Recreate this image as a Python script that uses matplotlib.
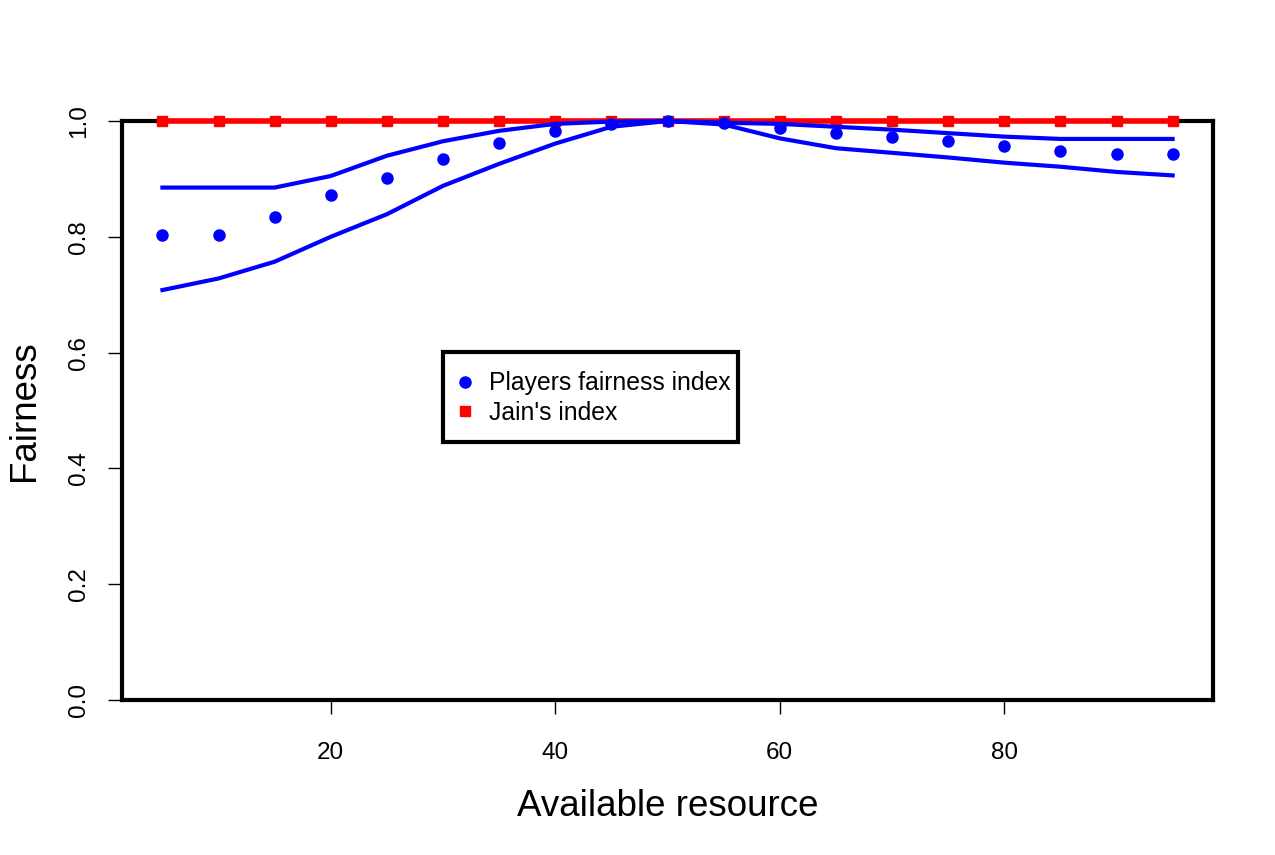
# Libraries
import numpy as np
from matplotlib import pyplot as plt
from matplotlib.patches import Rectangle

plt.rcParams['font.family'] = ['Liberation Sans', 'DejaVu Sans']

# Data
resource = [5, 10, 15, 20, 25, 30, 35, 40, 45, 50, 55, 60, 65, 70, 75, 80, 85, 90, 95]
players_index = [0.803, 0.803, 0.835, 0.873, 0.902, 0.934, 0.962, 0.982, 0.994, 1.0,
                 0.996, 0.988, 0.980, 0.973, 0.965, 0.957, 0.949, 0.943, 0.943]
upper_bound = [0.885, 0.885, 0.885, 0.905, 0.940, 0.965, 0.983, 0.995, 0.999, 1.0,
               0.997, 0.995, 0.990, 0.985, 0.979, 0.973, 0.969, 0.969, 0.969]
lower_bound = [0.708, 0.728, 0.757, 0.800, 0.839, 0.888, 0.926, 0.961, 0.990, 1.0,
               0.994, 0.970, 0.953, 0.945, 0.937, 0.928, 0.921, 0.912, 0.906]
jain_index = [1.0] * len(resource)

fig = plt.figure(figsize=(12.75, 8.55), dpi=100)
ax = fig.add_axes([0.0957, 0.1813, 0.8557, 0.6772])

# Jain's index first, blue series drawn over it
ax.plot(resource, jain_index, color="red", linewidth=4, marker="s", markersize=7,
        clip_on=False, zorder=3)
ax.plot(resource, upper_bound, color="blue", linewidth=3, clip_on=False, zorder=4)
ax.plot(resource, lower_bound, color="blue", linewidth=3, clip_on=False, zorder=4)
ax.plot(resource, players_index, linestyle="none", color="blue", marker="o",
        markersize=8, clip_on=False, zorder=5)

ax.set_xlim(1.4, 98.6)
ax.set_ylim(0, 1)
ax.set_xticks([20, 40, 60, 80])
ax.set_yticks([0.0, 0.2, 0.4, 0.6, 0.8, 1.0])
ax.set_yticklabels(["0.0", "0.2", "0.4", "0.6", "0.8", "1.0"], rotation=90, va="center")
ax.tick_params(length=10, width=1, labelsize=17.5)
ax.tick_params(axis="x", pad=20)
ax.tick_params(axis="y", pad=13)
for s in ax.spines.values():
    s.set_linewidth(3)

ax.set_xlabel("Available resource", fontsize=26.5, labelpad=18)
ax.set_ylabel("Fairness", fontsize=26.5, labelpad=19)

# Legend: box drawn separately, entries placed inside it
box = Rectangle((0.294, 0.4456), 0.2704, 0.1554, transform=ax.transAxes,
                facecolor="white", edgecolor="black", linewidth=3, zorder=6)
ax.add_patch(box)
h1, = ax.plot([], [], linestyle="none", marker="o", color="blue", markersize=8)
h2, = ax.plot([], [], linestyle="none", marker="s", color="red", markersize=7)
leg = ax.legend([h1, h2], ["Players fairness index", "Jain's index"],
                loc="center left", bbox_to_anchor=(0.3043, 0.5216), borderaxespad=0,
                borderpad=0, fontsize=17.8, frameon=False, handlelength=0.9,
                handletextpad=0.5, labelspacing=0.22)
leg.set_zorder(7)

plt.savefig("out.png", dpi=100)
